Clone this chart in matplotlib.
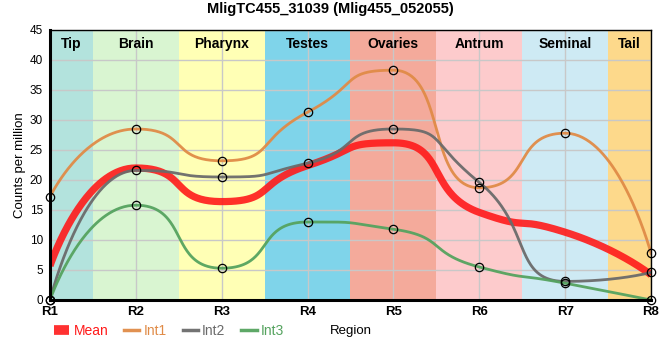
import numpy as np
import matplotlib.pyplot as plt
from matplotlib.patches import Rectangle

regions = ['R1', 'R2', 'R3', 'R4', 'R5', 'R6', 'R7', 'R8']
mean = [5.7, 22.0, 16.4, 22.4, 26.2, 14.6, 11.3, 4.2]
int1 = [17.2, 28.5, 23.2, 31.3, 38.3, 18.7, 27.8, 7.8]
int2 = [0.0, 21.6, 20.5, 22.8, 28.5, 19.6, 3.1, 4.6]
int3 = [0.0, 15.8, 5.3, 13.0, 11.8, 5.5, 2.8, 0.0]

tissues = ['Tip', 'Brain', 'Pharynx', 'Testes', 'Ovaries', 'Antrum', 'Seminal', 'Tail']
tissue_edges = [0, 0.5, 1.5, 2.5, 3.5, 4.5, 5.5, 6.5, 7]
tissue_colors = ['#b3e3dd', '#d9f5d1', '#ffffb5', '#7fd4ea', '#f4aa9b',
                 '#fdcbcc', '#ceeaf4', '#fdd98b']

plt.rcParams['font.family'] = ['Liberation Sans', 'DejaVu Sans']


def smooth(x, y, c=0.62, n=80):
    # bezier through the points, flat at local extremes, long handles
    x = np.asarray(x, float)
    y = np.asarray(y, float)
    d = np.diff(y) / np.diff(x)
    m = np.zeros_like(y)
    for k in range(1, len(x) - 1):
        if d[k - 1] * d[k] > 0:
            m[k] = 2 / (1 / d[k - 1] + 1 / d[k])
    cs = np.full(len(x), c)
    cs[0] = cs[-1] = 0.0
    t = np.linspace(0, 1, n)[:, None]
    xs, ys = [], []
    for k in range(len(x) - 1):
        h = x[k + 1] - x[k]
        p0 = np.array([x[k], y[k]])
        p3 = np.array([x[k + 1], y[k + 1]])
        p1 = p0 + cs[k] * h * np.array([1, m[k]])
        p2 = p3 - cs[k + 1] * h * np.array([1, m[k + 1]])
        pts = ((1 - t)**3 * p0 + 3 * (1 - t)**2 * t * p1 +
               3 * (1 - t) * t**2 * p2 + t**3 * p3)
        xs.append(pts[:, 0])
        ys.append(pts[:, 1])
    return np.concatenate(xs), np.concatenate(ys)


fig = plt.figure(figsize=(6.6, 3.6), dpi=100)
ax = fig.add_axes([50 / 660, 1 - 300 / 360, 601 / 660, 270 / 360])

for i, name in enumerate(tissues):
    x0, x1 = tissue_edges[i], tissue_edges[i + 1]
    ax.add_patch(Rectangle((x0, 0), x1 - x0, 45, color=tissue_colors[i],
                           zorder=0, lw=0))
    ax.text((x0 + x1) / 2, 43.9, name, ha='center', va='top',
            fontsize=10, fontweight='bold', zorder=5)

xpos = np.arange(len(regions))

sx, sy = smooth(xpos, mean)
ax.plot(sx, sy, color='#ff1a1a', lw=5.2, alpha=0.9,
        solid_capstyle='butt', zorder=3, label='Mean')
series = [(int1, '#e08b47', 'Int1'), (int2, '#6b6b6b', 'Int2'),
          (int3, '#55a35f', 'Int3')]
for vals, col, lab in series:
    sx, sy = smooth(xpos, vals)
    ax.plot(sx, sy, color=col, lw=2.0, alpha=0.95, zorder=3, label=lab)
    ax.plot(xpos, vals, 'o', ms=6.0, mfc='none', mec='black', mew=0.9,
            zorder=4, clip_on=False)

ax.set_xlim(0, 7)
ax.set_ylim(0, 45)
ax.set_yticks(range(0, 46, 5))
ax.set_xticks(xpos)
ax.set_xticklabels(regions, fontweight='bold', fontsize=9.5)
ax.tick_params(axis='y', labelsize=8.5, length=0, pad=5)
ax.tick_params(axis='x', length=0, pad=4)
ax.grid(True, color='#c8c8c8', lw=1)
for line in ax.get_xgridlines() + ax.get_ygridlines():
    line.set_zorder(1)
for sp in ('left', 'bottom'):
    ax.spines[sp].set_linewidth(2.2)
for sp in ('top', 'right'):
    ax.spines[sp].set_linewidth(1)
for sp in ax.spines.values():
    sp.set_zorder(6)

ax.set_ylabel('Counts per million', fontsize=9.5, labelpad=3)
fig.text(351 / 660, 1 - 331 / 360, 'Region', ha='center', va='center',
         fontsize=9.5)
fig.suptitle('MligTC455_31039 (Mlig455_052055)', fontsize=10.5,
             fontweight='bold', y=1 - 9 / 360, va='center')

leg = fig.legend(loc='center left', bbox_to_anchor=(54 / 660, 1 - 331 / 360),
                 ncol=4, frameon=False, fontsize=10, handlelength=1.1,
                 handletextpad=0.3, columnspacing=1.15, labelcolor='linecolor',
                 borderaxespad=0, borderpad=0)
for h in leg.legend_handles[1:]:
    h.set_linewidth(2.5)
leg.legend_handles[0].set_linewidth(7)
leg.legend_handles[0].set_solid_capstyle('butt')

fig.savefig('out.png', dpi=100)
